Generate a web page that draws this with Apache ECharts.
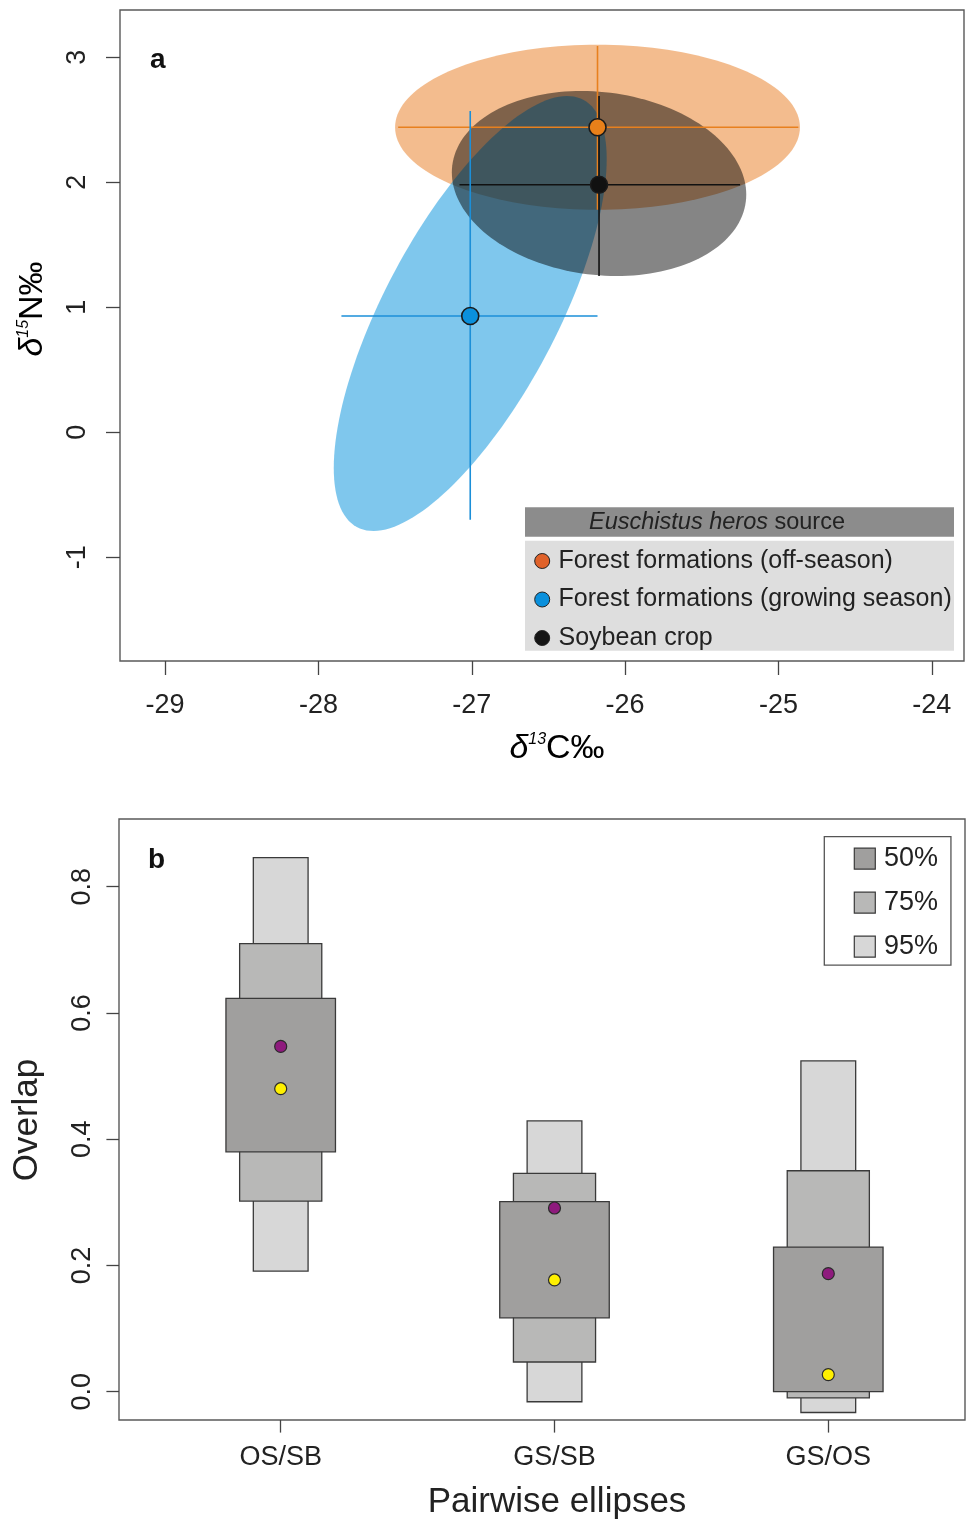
<!DOCTYPE html>
<html><head><meta charset="utf-8">
<script src="https://cdn.jsdelivr.net/npm/echarts@6/dist/echarts.min.js"></script>
<style>html,body{margin:0;padding:0;background:#fff}#c{width:968px;height:1520px}</style>
</head><body><div id="c"></div>
<script>
// ---------- Panel a data ----------
const groups = ['Forest formations (off-season)', 'Forest formations (growing season)', 'Soybean crop'];
const meanC = [-26.18, -27.01, -26.17];
const meanN = [2.44, 0.93, 1.98];
const cLow  = [-27.48, -27.85, -27.08];
const cHigh = [-24.87, -26.18, -25.25];
const nLow  = [1.78, -0.70, 1.25];
const nHigh = [3.09, 2.57, 2.69];
// standard ellipses: centre, half-extent along C and N, correlation
const ellC   = [-26.18, -27.01, -26.17];
const ellN   = [2.44, 0.95, 1.99];
const ellSdC = [1.32, 0.89, 0.96];
const ellSdN = [0.66, 1.74, 0.74];
const ellRho = [0.0, 0.71, -0.12];
const xTicksA = [-29, -28, -27, -26, -25, -24];
const yTicksA = [-1, 0, 1, 2, 3];

// ---------- Panel b data ----------
const pairs = ['OS/SB', 'GS/SB', 'GS/OS'];
const low95  = [0.191, -0.016, -0.033];
const high95 = [0.846, 0.429, 0.524];
const low75  = [0.302, 0.047, -0.010];
const high75 = [0.710, 0.346, 0.350];
const low50  = [0.380, 0.117, 0.000];
const high50 = [0.623, 0.301, 0.229];
const purpleVals = [0.547, 0.291, 0.187];
const yellowVals = [0.480, 0.177, 0.027];
const xTicksB = [1, 2, 3];
const yTicksB = [0, 0.2, 0.4, 0.6, 0.8];

// ---------- styles ----------
const FONT = "'Liberation Sans', Arial, Helvetica, sans-serif";
const TXT = '#222';
const ellFill = ['rgba(232,122,30,0.5)', 'rgba(0,144,220,0.5)', 'rgba(0,0,0,0.48)'];
const lineColors = ['#E8801E', '#1B8FD8', '#111111'];
const pointColors = ['#E8801A', '#0A90DC', '#111111'];
const legendColors = ['#E0622A', '#0A90DC', '#151515'];
const boxHalf = {'95%': 0.1, '75%': 0.15, '50%': 0.2};
const boxFill = {'95%': '#D7D7D7', '75%': '#B8B8B7', '50%': '#A09F9E'};

const chart = echarts.init(document.getElementById('c'));

function ellipseRender(params, api) {
  const i = api.value(2);
  const pts = [];
  const r = ellRho[i], q = Math.sqrt(1 - r * r);
  for (let k = 0; k < 160; k++) {
    const t = 2 * Math.PI * k / 160, c = Math.cos(t), s = Math.sin(t);
    pts.push(api.coord([ellC[i] + ellSdC[i] * c, ellN[i] + ellSdN[i] * (r * c + q * s)]));
  }
  return {type: 'polygon', shape: {points: pts}, style: {fill: ellFill[i], stroke: null}};
}
function errRender(params, api) {
  const i = api.value(2);
  const a = api.coord([cLow[i], meanN[i]]), b = api.coord([cHigh[i], meanN[i]]);
  const c = api.coord([meanC[i], nLow[i]]), d = api.coord([meanC[i], nHigh[i]]);
  const st = {stroke: lineColors[i], lineWidth: 1.6};
  return {type: 'group', children: [
    {type: 'line', shape: {x1: a[0], y1: a[1], x2: b[0], y2: b[1]}, style: st},
    {type: 'line', shape: {x1: c[0], y1: c[1], x2: d[0], y2: d[1]}, style: st}
  ]};
}
function boxSeries(name, lows, highs) {
  return {
    type: 'custom', name, xAxisIndex: 1, yAxisIndex: 1,
    itemStyle: {color: boxFill[name]},
    data: pairs.map((p, i) => [xTicksB[i], lows[i], highs[i]]),
    renderItem: (params, api) => {
      const x = api.value(0);
      const tl = api.coord([x - boxHalf[name], api.value(2)]);
      const br = api.coord([x + boxHalf[name], api.value(1)]);
      return {type: 'rect', shape: {x: tl[0], y: tl[1], width: br[0] - tl[0], height: br[1] - tl[1]},
        style: {fill: boxFill[name], stroke: '#3A3A3A', lineWidth: 1.3}};
    }
  };
}

const axisCommon = {
  axisLine: {show: false, onZero: false},
  splitLine: {show: false},
};
const tickStyle = {color: '#444', width: 1.3};

const option = {
  animation: false,
  backgroundColor: '#fff',
  grid: [
    {left: 120, top: 10, width: 844, height: 651, show: true, borderColor: '#595959', borderWidth: 1.4, backgroundColor: 'transparent'},
    {left: 119, top: 819, width: 846, height: 601, show: true, borderColor: '#595959', borderWidth: 1.4, backgroundColor: 'transparent'}
  ],
  xAxis: [
    Object.assign({}, axisCommon, {
      type: 'value', gridIndex: 0, min: -29.294, max: -23.79,
      axisTick: {show: true, length: 14, customValues: xTicksA, lineStyle: tickStyle},
      axisLabel: {customValues: xTicksA, fontSize: 27, fontFamily: FONT, color: TXT, margin: 31}
    }),
    Object.assign({}, axisCommon, {
      type: 'value', gridIndex: 1, min: 0.4094, max: 3.4993,
      axisTick: {show: true, length: 12.6, customValues: xTicksB, lineStyle: tickStyle},
      axisLabel: {customValues: xTicksB, fontSize: 27, fontFamily: FONT, color: TXT, margin: 24,
        formatter: v => pairs[Math.round(v) - 1]}
    })
  ],
  yAxis: [
    Object.assign({}, axisCommon, {
      type: 'value', gridIndex: 0, min: -1.830, max: 3.378,
      axisTick: {show: true, length: 14, customValues: yTicksA, lineStyle: tickStyle},
      axisLabel: {customValues: yTicksA, fontSize: 27, fontFamily: FONT, color: TXT, margin: 29, rotate: 90}
    }),
    Object.assign({}, axisCommon, {
      type: 'value', gridIndex: 1, min: -0.0449, max: 0.9073,
      axisTick: {show: true, length: 12.6, customValues: yTicksB, lineStyle: tickStyle},
      axisLabel: {customValues: yTicksB, fontSize: 27, fontFamily: FONT, color: TXT, margin: 23, rotate: 90,
        formatter: v => v.toFixed(1)}
    })
  ],
  legend: [
    {
      orient: 'vertical', left: 525, top: 548, padding: [0, 0, 0, 9.2],
      itemWidth: 15, itemHeight: 15, itemGap: 12.5, icon: 'circle',
      textStyle: {fontSize: 25, fontFamily: FONT, color: TXT, lineHeight: 26, padding: [0, 0, 0, 3.8]},
      data: groups.map((g, i) => ({name: g, itemStyle: {color: legendColors[i], borderColor: '#222', borderWidth: 1}})),
      selectedMode: false, z: 6
    },
    {
      orient: 'vertical', left: 824.3, top: 836.7, padding: [8.5, 13, 5, 29.4],
      borderColor: '#555', borderWidth: 1.3, backgroundColor: '#fff',
      itemWidth: 21, itemHeight: 21, itemGap: 17, icon: 'rect',
      textStyle: {fontSize: 27, fontFamily: FONT, color: TXT, lineHeight: 21, padding: [0, 0, 0, 3.6]},
      data: ['50%', '75%', '95%'].map(n => ({name: n, itemStyle: {color: boxFill[n], borderColor: '#3A3A3A', borderWidth: 1.2}})),
      selectedMode: false, z: 6
    }
  ],
  graphic: {elements: [
    {type: 'rect', z: 1, shape: {x: 525, y: 507.3, width: 429, height: 29.4}, style: {fill: '#8C8C8C'}},
    {type: 'rect', z: 1, shape: {x: 525, y: 540.7, width: 429, height: 110}, style: {fill: '#DEDEDE'}},
    {type: 'text', z: 7, x: 589, y: 522.5, style: {
      text: '{i|Euschistus heros }{r|source}', align: 'left', verticalAlign: 'middle',
      textAlign: 'left', textVerticalAlign: 'middle',
      rich: {i: {fontStyle: 'italic', fontSize: 23.5, fontFamily: FONT, fill: TXT, color: TXT},
             r: {fontSize: 23.5, fontFamily: FONT, fill: TXT, color: TXT}}
    }},
    {type: 'text', z: 7, x: 150, y: 60, style: {text: 'a', font: 'bold 28px ' + FONT, fill: '#111',
      align: 'left', verticalAlign: 'middle', textAlign: 'left', textVerticalAlign: 'middle'}},
    {type: 'text', z: 7, x: 148, y: 860, style: {text: 'b', font: 'bold 28px ' + FONT, fill: '#111',
      align: 'left', verticalAlign: 'middle', textAlign: 'left', textVerticalAlign: 'middle'}},
    {type: 'text', z: 7, x: 557, y: 749, style: {
      text: '{d|δ}{s|13}{n|C‰}', align: 'center', verticalAlign: 'middle', textAlign: 'center', textVerticalAlign: 'middle',
      rich: {d: {fontStyle: 'italic', fontSize: 34, fontFamily: FONT, color: TXT},
             s: {fontStyle: 'italic', fontSize: 16, fontFamily: FONT, color: TXT, verticalAlign: 'top'},
             n: {fontSize: 34, fontFamily: FONT, color: TXT}}
    }},
    {type: 'text', z: 7, x: 33, y: 309, rotation: Math.PI / 2, style: {
      text: '{d|δ}{s|15}{n|N‰}', align: 'center', verticalAlign: 'middle', textAlign: 'center', textVerticalAlign: 'middle',
      rich: {d: {fontStyle: 'italic', fontSize: 34, fontFamily: FONT, color: TXT},
             s: {fontStyle: 'italic', fontSize: 16, fontFamily: FONT, color: TXT, verticalAlign: 'top'},
             n: {fontSize: 34, fontFamily: FONT, color: TXT}}
    }},
    {type: 'text', z: 7, x: 27, y: 1120, rotation: Math.PI / 2, style: {text: 'Overlap', font: '35px ' + FONT, fill: TXT,
      align: 'center', verticalAlign: 'middle', textAlign: 'center', textVerticalAlign: 'middle'}},
    {type: 'text', z: 7, x: 557, y: 1502, style: {text: 'Pairwise ellipses', font: '35px ' + FONT, fill: TXT,
      align: 'center', verticalAlign: 'middle', textAlign: 'center', textVerticalAlign: 'middle'}}
  ]},
  series: [
    {type: 'custom', name: 'ellipses', xAxisIndex: 0, yAxisIndex: 0, silent: true, z: 2,
      data: [0, 1, 2].map(i => [ellC[i], ellN[i], i]), renderItem: ellipseRender},
    {type: 'custom', name: 'errorbars', xAxisIndex: 0, yAxisIndex: 0, silent: true, z: 3,
      data: [0, 2, 1].map(i => [meanC[i], meanN[i], i]), renderItem: errRender},
    ...groups.map((g, i) => ({
      type: 'scatter', name: g, xAxisIndex: 0, yAxisIndex: 0, z: 4, symbol: 'circle', symbolSize: 17,
      data: [[meanC[i], meanN[i]]],
      itemStyle: {color: pointColors[i], borderColor: '#1a1a1a', borderWidth: 1.6, opacity: 1}
    })),
    boxSeries('95%', low95, high95),
    boxSeries('75%', low75, high75),
    boxSeries('50%', low50, high50),
    {type: 'scatter', name: 'purple', xAxisIndex: 1, yAxisIndex: 1, z: 4, symbolSize: 12,
      data: pairs.map((p, i) => [xTicksB[i], purpleVals[i]]),
      itemStyle: {color: '#8E1A7D', borderColor: '#2a2a2a', borderWidth: 1.2, opacity: 1}},
    {type: 'scatter', name: 'yellow', xAxisIndex: 1, yAxisIndex: 1, z: 4, symbolSize: 12,
      data: pairs.map((p, i) => [xTicksB[i], yellowVals[i]]),
      itemStyle: {color: '#FFF000', borderColor: '#2a2a2a', borderWidth: 1.2, opacity: 1}}
  ]
};
chart.setOption(option);
</script></body></html>
